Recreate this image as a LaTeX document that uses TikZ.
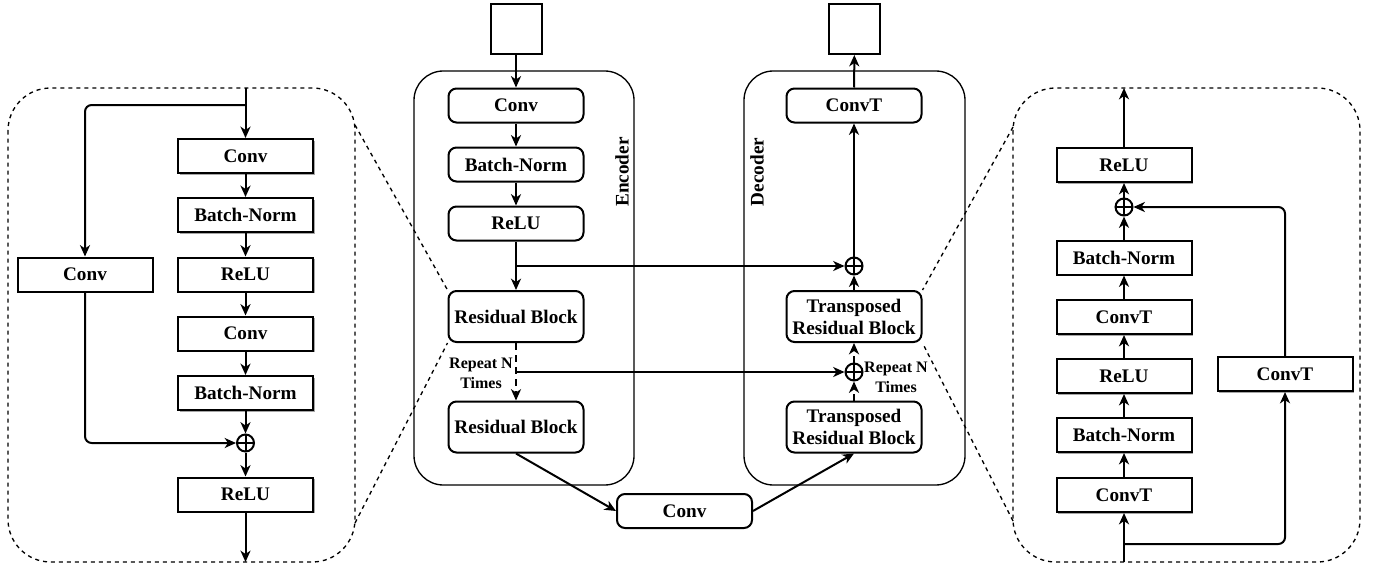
\documentclass[tikz,border=0pt]{standalone}
\usepackage{fontspec}
\setmainfont{Liberation Serif}
\usetikzlibrary{arrows.meta,shadows}
\begin{document}
\begin{tikzpicture}[x=0.75pt,y=-0.75pt,
  every node/.style={font=\bfseries\fontsize{14.4}{16.5}\selectfont},
  pbox/.style={draw, line width=1.5pt, minimum width=101.25pt, minimum height=25.5pt, inner sep=0pt, fill=white,
    general shadow={fill=black!35, shadow xshift=1.3pt, shadow yshift=-1.3pt}},
  mbox/.style={draw, line width=1.5pt, rounded corners=6pt, minimum width=101.25pt, minimum height=25.5pt, inner sep=0pt, fill=white, align=center},
  tallbox/.style={mbox, minimum height=38.25pt},
  sqbox/.style={draw, line width=1.5pt, minimum width=38.25pt, minimum height=37.5pt, inner sep=0pt},
  groupbox/.style={draw, line width=1pt, rounded corners=22pt},
  panel/.style={draw, line width=1pt, dash pattern=on 3pt off 3pt, rounded corners=32pt},
  zoomline/.style={draw, line width=1pt, dash pattern=on 3pt off 3pt},
  plusnode/.style={circle, draw, line width=1.5pt, minimum size=12.75pt, inner sep=0pt,
    path picture={\draw[line width=1.5pt] (path picture bounding box.north) -- (path picture bounding box.south)
      (path picture bounding box.west) -- (path picture bounding box.east);}},
  arr/.style={draw, line width=1.5pt, -{Stealth[length=8.5pt,width=7.5pt,inset=2.5pt]}},
  dasharr/.style={arr, dash pattern=on 5pt off 4pt},
  reptext/.style={font=\bfseries\fontsize{12}{15}\selectfont, align=center, inner sep=0pt},
  grouplabel/.style={rotate=90, inner sep=0pt}
]
\useasboundingbox (0,0) rectangle (1383,567);

% ---------------- left panel ----------------
\draw[panel] (8,88) rectangle (355,562);
\node[pbox] (l1) at (245.5,156) {Conv};
\node[pbox] (l2) at (245.5,215) {Batch-Norm};
\node[pbox] (l3) at (245.5,274.5) {ReLU};
\node[pbox] (l4) at (245.5,333.5) {Conv};
\node[pbox] (l5) at (245.5,393) {Batch-Norm};
\node[plusnode] (lo) at (245.5,443) {};
\node[pbox] (l6) at (245.5,494.5) {ReLU};
\node[pbox] (lc) at (85,274.5) {Conv};
\coordinate (lin) at (245.5,88);
\coordinate (lb) at (245.5,105);
\coordinate (lout) at (245.5,562);
\draw[arr] (lin) -- (l1);
\draw[arr, rounded corners=5pt] (lb) -| (lc.north);
\draw[arr] (l1) -- (l2);
\draw[arr] (l2) -- (l3);
\draw[arr] (l3) -- (l4);
\draw[arr] (l4) -- (l5);
\draw[arr] (l5) -- (lo);
\draw[arr, rounded corners=5pt] (lc.south) |- (lo.west);
\draw[arr] (lo) -- (l6);
\draw[arr] (l6) -- (lout);

% ---------------- encoder ----------------
\draw[groupbox] (414,71) rectangle (634,485);
\node[sqbox] (in) at (516,29) {};
\node[mbox] (e1) at (516,105.5) {Conv};
\node[mbox] (e2) at (516,164.5) {Batch-Norm};
\node[mbox] (e3) at (516,223.5) {ReLU};
\node[tallbox] (e4) at (516,316.5) {Residual Block};
\node[tallbox] (e5) at (516,427) {Residual Block};
\node[grouplabel] (enc) at (622,172) {Encoder};
\node[reptext] (rep1) at (481,373) {Repeat N\\Times};

% ---------------- decoder ----------------
\draw[groupbox] (744,71) rectangle (965,485);
\node[sqbox] (out) at (854.5,29) {};
\node[mbox] (d1) at (854,105.5) {ConvT};
\node[plusnode] (do1) at (854,266) {};
\node[tallbox] (d2) at (854,316.5) {Transposed\\Residual Block};
\node[plusnode] (do2) at (854,372) {};
\node[tallbox] (d3) at (854,427) {Transposed\\Residual Block};
\node[grouplabel] (dec) at (757,172) {Decoder};
\node[reptext] (rep2) at (896,377) {Repeat N\\Times};

\node[mbox] (bc) at (684.5,511) {Conv};

\coordinate (s1) at (516,266);
\coordinate (s2) at (516,372);
\draw[arr] (in) -- (e1);
\draw[arr] (e1) -- (e2);
\draw[arr] (e2) -- (e3);
\draw[arr] (e3) -- (e4);
\draw[arr] (s1) -- (do1);
\draw[dasharr] (e4) -- (e5);
\draw[arr] (s2) -- (do2);
\draw[arr] (e5.south) -- (bc.west);
\draw[arr] (bc.east) -- (d3.south);
\draw[dasharr] (d3) -- (do2);
\draw[dasharr] (do2) -- (d2);
\draw[arr] (d2) -- (do1);
\draw[arr] (do1) -- (d1);
\draw[arr] (d1) -- (out);

% ---------------- right panel ----------------
\draw[panel] (1013,88) rectangle (1360,562);
\node[pbox] (q1) at (1124,165) {ReLU};
\node[plusnode] (qo) at (1124,207) {};
\node[pbox] (q2) at (1124,257.5) {Batch-Norm};
\node[pbox] (q3) at (1124,317) {ConvT};
\node[pbox] (q4) at (1124,376) {ReLU};
\node[pbox] (q5) at (1124,435) {Batch-Norm};
\node[pbox] (q6) at (1124,495) {ConvT};
\node[pbox] (qc) at (1285,374) {ConvT};
\coordinate (qin) at (1124,562);
\coordinate (qb) at (1124,544);
\coordinate (qout) at (1124,88);
\draw[arr] (qin) -- (q6);
\draw[arr, rounded corners=5pt] (qb) -| (qc.south);
\draw[arr] (q6) -- (q5);
\draw[arr] (q5) -- (q4);
\draw[arr] (q4) -- (q3);
\draw[arr] (q3) -- (q2);
\draw[arr] (q2) -- (qo);
\draw[arr, rounded corners=5pt] (qc.north) |- (qo.east);
\draw[arr] (qo) -- (q1);
\draw[arr] (q1) -- (qout);

% ---------------- zoom lines ----------------
\coordinate (zl1) at (355,125);
\coordinate (zl2) at (355,523);
\coordinate (zr1) at (1013,127);
\coordinate (zr2) at (1013,521);
\draw[zoomline] (zl1) -- (e4.north west);
\draw[zoomline] (zl2) -- (e4.south west);
\draw[zoomline] (zr1) -- (d2.north east);
\draw[zoomline] (zr2) -- (d2.south east);
\end{tikzpicture}
\end{document}
